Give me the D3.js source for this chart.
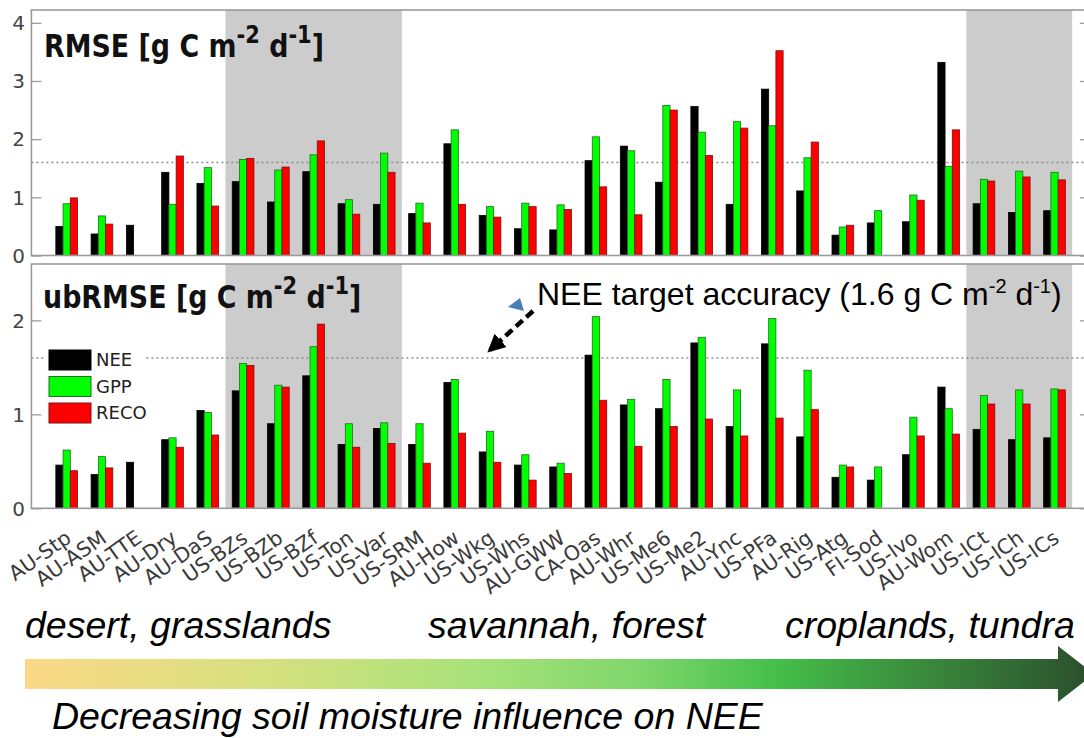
<!DOCTYPE html>
<html>
<head>
<meta charset="utf-8">
<script src="https://cdn.jsdelivr.net/npm/d3@7"></script>
<style>
  html, body { margin: 0; padding: 0; background: #fff; }
  svg { display: block; }
</style>
</head>
<body>
<div id="vis-display"></div>
<script>
// Flux-tower error stats (RMSE / ubRMSE) per site, NEE / GPP / RECO — ordered by soil-moisture influence.

const SITES = [
  "AU-Stp", "AU-ASM", "AU-TTE", "AU-Dry", "AU-DaS", "US-BZs", "US-BZb", "US-BZf", "US-Ton", "US-Var",
  "US-SRM", "AU-How", "US-Wkg", "US-Whs", "AU-GWW", "CA-Oas", "AU-Whr", "US-Me6", "US-Me2", "AU-Ync",
  "US-PFa", "AU-Rig", "US-Atg", "FI-Sod", "US-Ivo", "AU-Wom", "US-ICt", "US-ICh", "US-ICs"
];

// RMSE [g C m-2 d-1]
const RMSE_NEE  = [0.50, 0.37, 0.52, 1.43, 1.24, 1.27, 0.92, 1.44, 0.89, 0.88, 0.72, 1.92, 0.69, 0.46, 0.44, 1.63, 1.88, 1.26, 2.56, 0.88, 2.86, 1.11, 0.35, 0.56, 0.58, 3.32, 0.89, 0.74, 0.77];
const RMSE_GPP  = [0.89, 0.68, null, 0.88, 1.51, 1.65, 1.47, 1.73, 0.96, 1.76, 0.90, 2.16, 0.84, 0.90, 0.87, 2.04, 1.80, 2.58, 2.12, 2.30, 2.23, 1.68, 0.49, 0.77, 1.04, 1.53, 1.31, 1.45, 1.43];
const RMSE_RECO = [0.99, 0.54, null, 1.71, 0.85, 1.67, 1.52, 1.97, 0.71, 1.43, 0.56, 0.88, 0.66, 0.84, 0.79, 1.18, 0.70, 2.50, 1.72, 2.19, 3.52, 1.95, 0.52, null, 0.95, 2.16, 1.28, 1.35, 1.30];

// ubRMSE [g C m-2 d-1]
const UB_NEE  = [0.46, 0.36, 0.49, 0.73, 1.04, 1.25, 0.90, 1.41, 0.68, 0.85, 0.68, 1.34, 0.60, 0.46, 0.44, 1.63, 1.10, 1.06, 1.76, 0.87, 1.75, 0.76, 0.33, 0.30, 0.57, 1.29, 0.84, 0.73, 0.75];
const UB_GPP  = [0.62, 0.55, null, 0.75, 1.02, 1.54, 1.31, 1.72, 0.90, 0.91, 0.90, 1.37, 0.82, 0.57, 0.48, 2.04, 1.16, 1.37, 1.82, 1.26, 2.02, 1.47, 0.46, 0.44, 0.97, 1.06, 1.20, 1.26, 1.27];
const UB_RECO = [0.40, 0.43, null, 0.65, 0.78, 1.52, 1.29, 1.96, 0.65, 0.69, 0.48, 0.80, 0.49, 0.30, 0.37, 1.15, 0.66, 0.87, 0.95, 0.77, 0.96, 1.05, 0.44, null, 0.77, 0.79, 1.11, 1.11, 1.26];

const SERIES = ["NEE", "GPP", "RECO"];
const SHADED = [[5.5, 10.5], [26.5, 29.5]];     // site-index ranges with grey background
const TARGET = 1.6;                              // NEE target accuracy
const RMSE_TICKS = [0, 1, 2, 3, 4];
const UB_TICKS   = [0, 1, 2];
const BIOMES = ["desert, grasslands", "savannah, forest", "croplands, tundra"];

const W = 1084, H = 738;
const COLOR = { NEE: "#000000", GPP: "#00ff00", RECO: "#ff0000" };
const EDGE  = { NEE: "#000000", GPP: "#1f6e1f", RECO: "#7a1010" };

const svg = d3.select("#vis-display").append("svg")
  .attr("width", W).attr("height", H)
  .style("font-family", "'DejaVu Sans', sans-serif");

// ── Shared x scale: site index 1..29, xlim [0, 30] ────────────────────────
const x = d3.scaleLinear().domain([0, 30]).range([31.4, 1089.8]);
const step = x(1) - x(0);
const barW = step * 0.205;

// ── Panel drawing ─────────────────────────────────────────────────────────
function drawPanel(y0, y1, ymax, ticks, values) {
  const y = d3.scaleLinear().domain([0, ymax]).range([y1, y0]);
  const g = svg.append("g");

  SHADED.forEach(([a, b]) => {
    g.append("rect")
      .attr("x", x(a)).attr("width", x(b) - x(a))
      .attr("y", y0).attr("height", y1 - y0)
      .attr("fill", "#cccccc");
  });

  g.append("line")
    .attr("x1", x(0)).attr("x2", x(30))
    .attr("y1", y(TARGET)).attr("y2", y(TARGET))
    .attr("stroke", "#8c8c8c").attr("stroke-width", 1.5)
    .attr("stroke-dasharray", "2,3");

  SERIES.forEach((s, k) => {
    const data = values[s].map((v, i) => ({ v, i: i + 1 })).filter(d => d.v != null);
    g.append("g")
      .selectAll("rect")
      .data(data)
      .join("rect")
        .attr("x", d => x(d.i) + (k - 1.5) * barW)
        .attr("width", barW)
        .attr("y", d => y(d.v))
        .attr("height", d => y(0) - y(d.v))
        .attr("fill", COLOR[s])
        .attr("stroke", EDGE[s])
        .attr("stroke-width", 0.8);
  });

  // box
  g.append("rect")
    .attr("x", x(0)).attr("y", y0)
    .attr("width", x(30) - x(0)).attr("height", y1 - y0)
    .attr("fill", "none").attr("stroke", "#9a9a9a").attr("stroke-width", 1.6);

  // inward ticks on both sides
  const axL = g.append("g").attr("transform", `translate(${x(0)},0)`)
    .call(d3.axisRight(y).tickValues(ticks).tickSize(10).tickFormat(""));
  axL.select(".domain").remove();
  axL.selectAll(".tick line").attr("stroke", "#9a9a9a").attr("stroke-width", 1.3);

  const axR = g.append("g").attr("transform", `translate(${x(30)},0)`)
    .call(d3.axisLeft(y).tickValues(ticks).tickSize(10).tickFormat(""));
  axR.select(".domain").remove();
  axR.selectAll(".tick line").attr("stroke", "#9a9a9a").attr("stroke-width", 1.3);

  g.selectAll(".ylab")
    .data(ticks)
    .join("text")
      .attr("x", 25).attr("y", d => y(d))
      .attr("dy", "0.36em")
      .attr("text-anchor", "end")
      .style("font-size", "20px")
      .style("fill", "#444")
      .text(d => d);

  return { g, y };
}

function title(g, tx, ty, label) {
  const t = g.append("text")
    .attr("transform", `translate(${tx},${ty}) scale(0.84,1)`)
    .style("font-size", "32px").style("font-weight", "bold").style("fill", "#111");
  t.append("tspan").text(label + " [g C m");
  t.append("tspan").attr("dy", -14).style("font-size", "25px").text("-2");
  t.append("tspan").attr("dy", 14).text(" d");
  t.append("tspan").attr("dy", -14).style("font-size", "25px").text("-1");
  t.append("tspan").attr("dy", 14).text("]");
}

const panelA = drawPanel(10, 255.5, 4.22, RMSE_TICKS, { NEE: RMSE_NEE, GPP: RMSE_GPP, RECO: RMSE_RECO });
title(panelA.g, 44, 57, "RMSE");

const panelB = drawPanel(264, 508.3, 2.6, UB_TICKS, { NEE: UB_NEE, GPP: UB_GPP, RECO: UB_RECO });
title(panelB.g, 43, 308, "ubRMSE");

// ── Legend ────────────────────────────────────────────────────────────────
const leg = svg.append("g");
leg.append("rect").attr("x", 45).attr("y", 342).attr("width", 100).attr("height", 86).attr("fill", "#fff");
SERIES.forEach((s, k) => {
  leg.append("rect")
    .attr("x", 49).attr("y", 350 + k * 26.5)
    .attr("width", 42).attr("height", 20)
    .attr("fill", COLOR[s]).attr("stroke", EDGE[s]).attr("stroke-width", 1);
  leg.append("text")
    .attr("x", 96).attr("y", 360 + k * 26.5)
    .attr("dy", "0.36em")
    .style("font-size", "18px").style("fill", "#222")
    .text(s);
});

// ── Site labels ───────────────────────────────────────────────────────────
svg.append("g")
  .selectAll("text")
  .data(SITES)
  .join("text")
    .attr("transform", (d, i) => `translate(${x(i + 1) + 6},${541}) rotate(-35)`)
    .attr("text-anchor", "end")
    .style("font-size", "20.5px")
    .style("fill", "#3a3a3a")
    .text(d => d);

// ── NEE target annotation ─────────────────────────────────────────────────
const defs = svg.append("defs");
defs.append("marker")
  .attr("id", "ah").attr("viewBox", "0 0 10 10")
  .attr("refX", 8).attr("refY", 5)
  .attr("markerWidth", 4).attr("markerHeight", 4)
  .attr("orient", "auto")
  .append("path").attr("d", "M0,0 L10,5 L0,10 z").attr("fill", "#000");

svg.append("line")
  .attr("x1", 533).attr("y1", 311)
  .attr("x2", 490).attr("y2", 350)
  .attr("stroke", "#000").attr("stroke-width", 4.5)
  .attr("stroke-dasharray", "9,5")
  .attr("marker-end", "url(#ah)");

svg.append("path")
  .attr("d", "M508,307 L520,298 L524,311 Z")
  .attr("fill", "#4a7ebb");

const ann = svg.append("text")
  .attr("x", 537).attr("y", 305)
  .style("font-family", "'Liberation Sans', Arial, sans-serif")
  .style("font-size", "32px").style("fill", "#000");
ann.append("tspan").text("NEE target accuracy (1.6 g C m");
ann.append("tspan").attr("dy", -12).style("font-size", "20px").text("-2");
ann.append("tspan").attr("dy", 12).text(" d");
ann.append("tspan").attr("dy", -12).style("font-size", "20px").text("-1");
ann.append("tspan").attr("dy", 12).text(")");

// ── Gradient arrow & biome captions ───────────────────────────────────────
const grad = defs.append("linearGradient")
  .attr("id", "gr").attr("x1", "0%").attr("x2", "100%").attr("y1", "0%").attr("y2", "0%");
[
  [0, "#fcd987"], [0.22, "#d6e07e"], [0.42, "#a9e27a"], [0.58, "#7dd66a"],
  [0.70, "#45c04a"], [0.84, "#3a8a3d"], [1, "#2b4d2c"]
].forEach(([o, c]) => grad.append("stop").attr("offset", o).attr("stop-color", c));

svg.append("path")
  .attr("d", "M25,659 L1058,659 L1058,646 L1094,674 L1058,702 L1058,689 L25,689 Z")
  .attr("fill", "url(#gr)");

const cap = svg.append("g")
  .style("font-family", "'Liberation Sans', Arial, sans-serif")
  .style("font-style", "italic")
  .style("font-size", "37.5px")
  .style("fill", "#000");

const capX = [25, 428, 785];
BIOMES.forEach((b, i) => cap.append("text").attr("x", capX[i]).attr("y", 638).text(b));
cap.append("text").attr("x", 52).attr("y", 729).text("Decreasing soil moisture influence on NEE");
</script>
</body>
</html>
